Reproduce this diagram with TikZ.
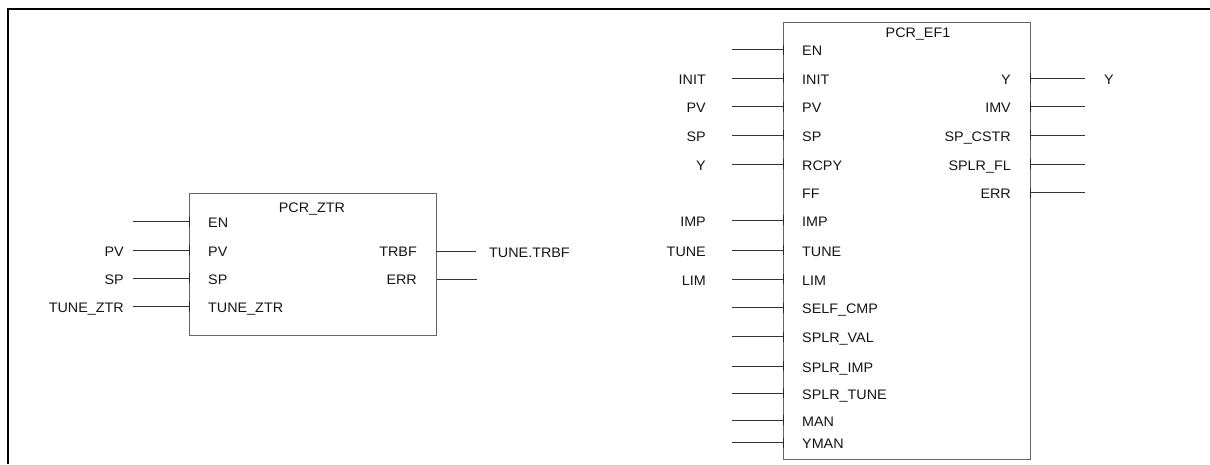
\documentclass[tikz,border=0pt]{standalone}
\usepackage{fontspec}
\setmainfont{Liberation Sans}[FakeStretch=1.04]
\begin{document}
\begin{tikzpicture}[x=1pt,y=-1pt,
  lbl/.style={inner sep=0pt, text height=9.7pt, text depth=0pt, text=black!92, font=\fontsize{13.8}{16}\selectfont},
  blockbox/.style={draw=black!60, line width=1.3pt, inner sep=0pt},
  wire/.style={draw=black!80, line width=1pt},
  pintick/.style={draw=black!85, line width=0.9pt},
  frameline/.style={line width=2pt, draw=black}]
\useasboundingbox (0,0) rectangle (1210,464);
% outer frame
\coordinate (frtr) at (1210,9);
\coordinate (frtl) at (7.5,9);
\coordinate (frbl) at (7.5,464);
\draw[frameline] (frtr) -- (frtl) -- (frbl);

% ---------------- PCR_ZTR ----------------
\node (ztr) [blockbox, anchor=north west, minimum width=246.5pt, minimum height=142pt] at (189,193) {};
\node (ztrtitle) [lbl] at (312,208) {PCR\_ZTR};
% inputs with outer labels
\foreach \yy/\inn/\out [count=\i] in {250/PV/PV, 278/SP/SP, 306.5/TUNE\_ZTR/TUNE\_ZTR}{
  \coordinate (zi\i) at (189,\yy);
  \coordinate (zw\i) at (133,\yy);
  \draw[wire] (zw\i) -- (zi\i);
  \draw[pintick] ([yshift=5pt]zi\i) -- ([yshift=-5pt]zi\i);
  \node (zn\i) [lbl, anchor=west] at (208,\yy+1.5) {\inn};
  \node (zo\i) [lbl, anchor=east] at (124,\yy+1.5) {\out};
}
% EN input
\coordinate (zien) at (189,221.5);
\coordinate (zwen) at (133,221.5);
\draw[wire] (zwen) -- (zien);
\draw[pintick] ([yshift=5pt]zien) -- ([yshift=-5pt]zien);
\node (znen) [lbl, anchor=west] at (208,223) {EN};
% outputs
\coordinate (zot1) at (436,251);
\coordinate (zow1) at (476,251);
\draw[wire] (zot1) -- (zow1);
\node (zon1) [lbl, anchor=east] at (417,251.5) {TRBF};
\node (zoo1) [lbl, anchor=west] at (489,253) {TUNE.TRBF};
\coordinate (zot2) at (437,279);
\coordinate (zow2) at (477,279);
\draw[wire] (zot2) -- (zow2);
\node (zon2) [lbl, anchor=east] at (417,279.5) {ERR};

% ---------------- PCR_EF1 ----------------
\node (ef) [blockbox, anchor=north west, minimum width=247pt, minimum height=437pt] at (783,22) {};
\node (eftitle) [lbl] at (918,33) {PCR\_EF1};
% inputs with outer labels
\foreach \yy/\inn/\out [count=\i] in {78/INIT/INIT, 106.5/PV/PV, 135/SP/SP, 164/RCPY/Y, 220/IMP/IMP, 250/TUNE/TUNE, 279/LIM/LIM}{
  \coordinate (ei\i) at (783,\yy);
  \coordinate (ew\i) at (732,\yy);
  \draw[wire] (ew\i) -- (ei\i);
  \draw[pintick] ([yshift=5pt]ei\i) -- ([yshift=-5pt]ei\i);
  \node (en\i) [lbl, anchor=west] at (802,\yy+1.2) {\inn};
  \node (eo\i) [lbl, anchor=east] at (706,\yy+1.2) {\out};
}
% inputs without outer labels
\foreach \yy/\inn [count=\i] in {49.5/EN, 307.5/SELF\_CMP, 336.5/SPLR\_VAL, 366/SPLR\_IMP, 393/SPLR\_TUNE, 420/MAN, 442.5/YMAN}{
  \coordinate (eu\i) at (783,\yy);
  \coordinate (euw\i) at (732,\yy);
  \draw[wire] (euw\i) -- (eu\i);
  \draw[pintick] ([yshift=5pt]eu\i) -- ([yshift=-5pt]eu\i);
  \node (eun\i) [lbl, anchor=west] at (802,\yy+1.2) {\inn};
}
% FF (no connector)
\node (eff) [lbl, anchor=west] at (802,193.5) {FF};
% outputs
\foreach \yy/\inn [count=\i] in {78/Y, 106.5/IMV, 135/SP\_CSTR, 164/SPLR\_FL, 192.5/ERR}{
  \coordinate (eot\i) at (1030,\yy);
  \coordinate (eow\i) at (1085,\yy);
  \draw[wire] (eot\i) -- (eow\i);
  \draw[pintick] ([yshift=5pt]eot\i) -- ([yshift=-5pt]eot\i);
  \node (eon\i) [lbl, anchor=east] at (1011,\yy+1.2) {\inn};
}
\node (eoy) [lbl, anchor=west] at (1104,79.2) {Y};
\end{tikzpicture}
\end{document}
